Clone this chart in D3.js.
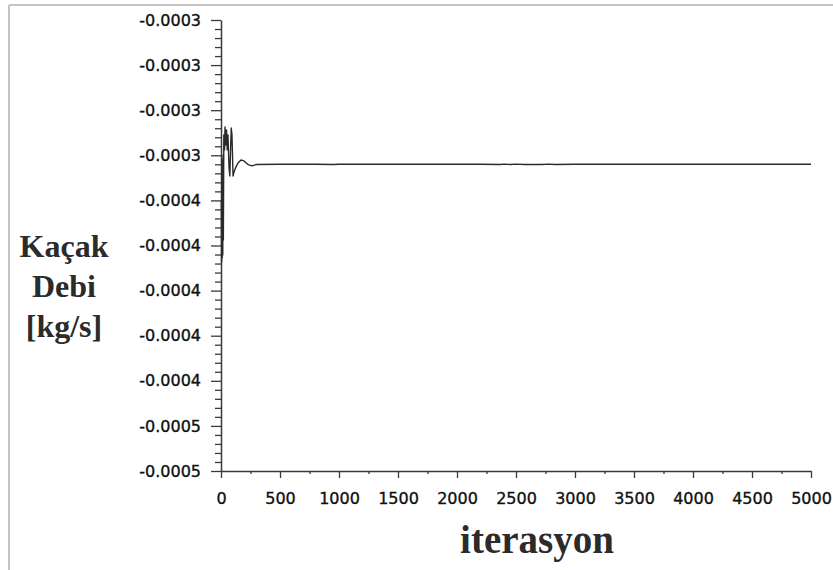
<!DOCTYPE html>
<html><head><meta charset="utf-8">
<script src="https://cdn.jsdelivr.net/npm/d3@7"></script>
<style>body{margin:0;background:#fff;} svg{display:block;}</style>
</head><body>
<svg id="chart" width="833" height="570"></svg>
<script>
// Data
const iterations = [3, 5, 8, 10, 13, 15, 18, 20, 24, 30, 34, 40, 47, 53, 59, 68, 75, 81, 87, 93, 102, 110, 123, 144, 170, 195, 229, 263, 297,
  500, 800, 950, 1000, 1300, 1600, 1900, 2200, 2365, 2400, 2450, 2500, 2576, 2720, 2780, 2830, 3000, 3500, 4000, 4500, 5000];
const massFlow = [-0.0003598, -0.0003873, -0.0003421, -0.0003855, -0.0003465, -0.0003842, -0.0003399, -0.0003776, -0.0003310, -0.0003376,
  -0.0003274, -0.0003354, -0.0003288, -0.0003376, -0.0003310, -0.0003456, -0.0003492, -0.0003376, -0.0003279, -0.0003310,
  -0.0003492, -0.0003474, -0.0003456, -0.0003434, -0.0003421, -0.0003425, -0.0003441, -0.0003447, -0.0003441,
  -0.0003440, -0.0003440, -0.0003441, -0.0003440, -0.0003440, -0.0003440, -0.0003440, -0.0003440, -0.0003441, -0.0003439, -0.0003441,
  -0.0003439, -0.0003441, -0.0003441, -0.0003439, -0.0003441, -0.0003440, -0.0003440, -0.0003440, -0.0003440, -0.0003440];
const yTickValues = [-0.00028, -0.00030, -0.00032, -0.00034, -0.00036, -0.00038, -0.00040, -0.00042, -0.00044, -0.00046, -0.00048];
const yTickLabels = ["-0.0003", "-0.0003", "-0.0003", "-0.0003", "-0.0004", "-0.0004", "-0.0004", "-0.0004", "-0.0004", "-0.0005", "-0.0005"];
const xTickValues = [0, 500, 1000, 1500, 2000, 2500, 3000, 3500, 4000, 4500, 5000];
const xTickLabels = ["0", "500", "1000", "1500", "2000", "2500", "3000", "3500", "4000", "4500", "5000"];
const yTitleLines = ["Kaçak", "Debi", "[kg/s]"];
const xTitle = "iterasyon";

const svg = d3.select("#chart");
const L = 221, R = 811, T = 20, B = 471;
const x = d3.scaleLinear().domain([0, 5000]).range([L, R]);
const y = d3.scaleLinear().domain([-0.00028, -0.00048]).range([T, B]);

// frame (top and left only visible)
svg.append("line").attr("x1", 9).attr("x2", 833).attr("y1", 5).attr("y2", 5).attr("stroke", "#c4c4c4").attr("stroke-width", 2);
svg.append("line").attr("x1", 9).attr("x2", 9).attr("y1", 5).attr("y2", 570).attr("stroke", "#c4c4c4").attr("stroke-width", 2);

const axisColor = "#3a3a3a";
const tickFont = "'DejaVu Sans', Verdana, sans-serif";
// y minor ticks
const yMinor = d3.range(0, 51).map(i => -0.00028 - i * 0.000004).filter((v, i) => i % 5 !== 0);
const gyMinor = svg.append("g").attr("transform", `translate(${L},0)`)
  .call(d3.axisLeft(y).tickValues(yMinor).tickSize(6).tickFormat(""));
gyMinor.select(".domain").remove();
gyMinor.selectAll("line").attr("stroke", axisColor).attr("stroke-width", 1.3);

const gy = svg.append("g").attr("transform", `translate(${L},0)`)
  .call(d3.axisLeft(y).tickValues(yTickValues).tickSize(10).tickSizeOuter(0).tickPadding(10)
    .tickFormat((d, i) => yTickLabels[i]));
gy.select(".domain").attr("stroke", axisColor).attr("stroke-width", 1.5);
gy.selectAll("line").attr("stroke", axisColor).attr("stroke-width", 1.3);
gy.selectAll("text").attr("font-family", tickFont).attr("font-size", 16)
  .attr("fill", "#111").attr("stroke", "#111").attr("stroke-width", 0.35);

// x minor ticks
const xMinor = d3.range(250, 5000, 500);
const gxMinor = svg.append("g").attr("transform", `translate(0,${B})`)
  .call(d3.axisBottom(x).tickValues(xMinor).tickSize(3).tickFormat(""));
gxMinor.select(".domain").remove();
gxMinor.selectAll("line").attr("stroke", axisColor).attr("stroke-width", 1.3);

const gx = svg.append("g").attr("transform", `translate(0,${B})`)
  .call(d3.axisBottom(x).tickValues(xTickValues).tickSize(7).tickSizeOuter(0).tickPadding(15)
    .tickFormat((d, i) => xTickLabels[i]));
gx.select(".domain").attr("stroke", axisColor).attr("stroke-width", 1.5);
gx.selectAll("line").attr("stroke", axisColor).attr("stroke-width", 1.3);
gx.selectAll("text").attr("font-family", tickFont).attr("font-size", 16)
  .attr("fill", "#111").attr("stroke", "#111").attr("stroke-width", 0.35);

// data line
const pts = iterations.map((it, i) => [it, massFlow[i]]);
svg.append("path").datum(pts)
  .attr("fill", "none").attr("stroke", "#2a2a2a").attr("stroke-width", 1.4).attr("stroke-linejoin", "round")
  .attr("d", d3.line().x(d => x(d[0])).y(d => y(d[1])));

// titles
const yt = svg.append("text").attr("font-family", "'Liberation Serif', 'Times New Roman', serif")
  .attr("font-weight", "bold").attr("font-size", 32).attr("fill", "#2b2b2b").attr("text-anchor", "middle");
yTitleLines.forEach((s, i) => yt.append("tspan").attr("x", 64).attr("y", 257 + i * 40).text(s));

svg.append("text").attr("x", 537).attr("y", 553).attr("text-anchor", "middle")
  .attr("font-family", "'Liberation Serif', 'Times New Roman', serif").attr("font-weight", "bold")
  .attr("font-size", 39).attr("fill", "#2b2b2b").text(xTitle);
</script>
</body></html>
